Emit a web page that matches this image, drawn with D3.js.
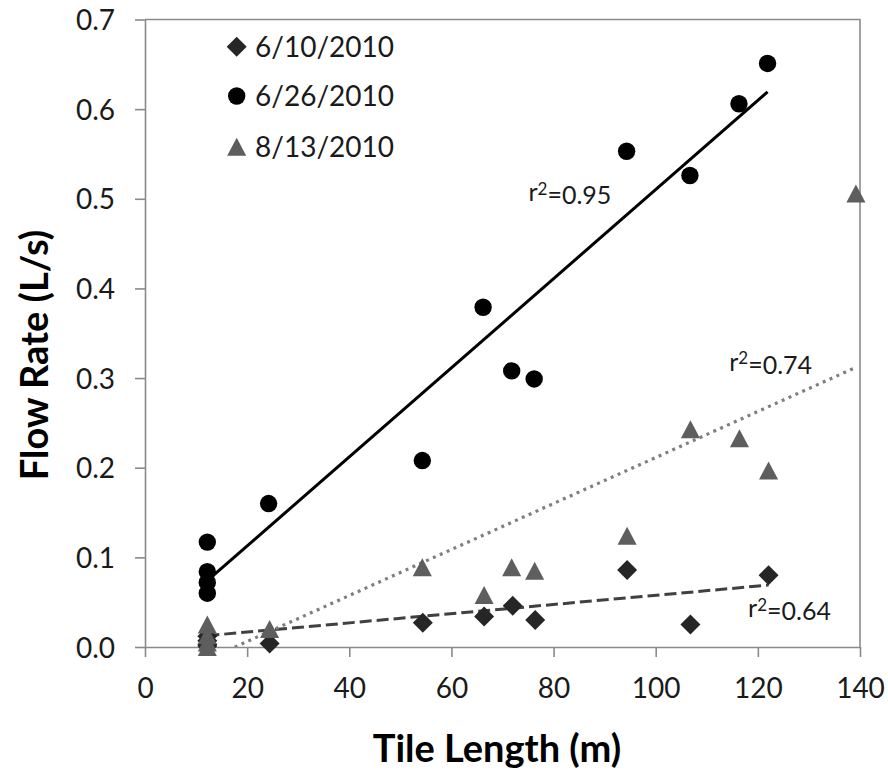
<!DOCTYPE html>
<html>
<head>
<meta charset="utf-8">
<script src="https://cdn.jsdelivr.net/npm/d3@7"></script>
<style>
  html, body { margin: 0; padding: 0; background: #fff; }
  svg { display: block; }
  text { font-family: Lato, "Open Sans", sans-serif; }
</style>
</head>
<body>
<svg id="chart" width="888" height="771"></svg>
<script>
// ---------- data ----------
const seriesNames = ["6/10/2010", "6/26/2010", "8/13/2010"];

const x0610 = [12.2, 12.2, 12.2, 12.2, 24.4, 54.4, 66.4, 72.0, 76.4, 94.4, 106.8, 122.1];
const y0610 = [0.012, 0.007, 0.003, 0.001, 0.004, 0.027, 0.034, 0.046, 0.030, 0.086, 0.025, 0.080];

const x0626 = [12.2, 12.2, 12.2, 12.2, 24.2, 54.3, 66.2, 71.8, 76.2, 94.3, 106.7, 116.3, 121.9];
const y0626 = [0.117, 0.084, 0.072, 0.060, 0.160, 0.208, 0.379, 0.308, 0.299, 0.553, 0.526, 0.606, 0.651];

const x0813 = [12.2, 12.2, 12.2, 12.2, 24.4, 54.3, 66.4, 71.8, 76.3, 94.4, 106.8, 116.4, 122.1, 139.2];
const y0813 = [0.025, 0.013, 0.005, 0.000, 0.020, 0.089, 0.058, 0.089, 0.085, 0.124, 0.243, 0.233, 0.197, 0.506];

// linear trend lines: y = slope * x + intercept, from xStart to xEnd
const trendSlope     = [0.000513, 0.00497, 0.002566];
const trendIntercept = [0.0064,   0.0133, -0.0452];
const trendXStart    = [12.2, 12.2, 12.2];
const trendXEnd      = [122.1, 121.9, 139.2];
const trendR2        = ["0.64", "0.95", "0.74"];
// label centre positions in data units (x, y)
const labelX = [126.2, 83.2, 122.5];
const labelY = [0.0435, 0.5076, 0.318];

const xTicks = [0, 20, 40, 60, 80, 100, 120, 140];
const yTicks = [0, 0.1, 0.2, 0.3, 0.4, 0.5, 0.6, 0.7];

const xTitle = "Tile Length (m)";
const yTitle = "Flow Rate (L/s)";

// ---------- styles ----------
const markerFill = ["#262626", "#000000", "#5e5e5e"];
const markerShape = ["diamond", "circle", "triangle"];
const trendStroke = ["#404040", "#000000", "#7f7f7f"];
const trendDash = ["12,5", null, "3,4.5"];
const trendWidth = [3, 3, 3.2];

const svg = d3.select("#chart");
const L = 145, R = 860, T = 19.5, B = 647;

const x = d3.scaleLinear().domain([0, 140]).range([L, R]);
const y = d3.scaleLinear().domain([0, 0.7]).range([B, T]);

const axisColor = "#8a8a8a";

// plot frame (top & right)
svg.append("path")
  .attr("d", `M${L},${T}H${R}V${B}`)
  .attr("fill", "none").attr("stroke", axisColor).attr("stroke-width", 1.6);

// axes
const gx = svg.append("g").attr("transform", `translate(0,${B})`)
  .call(d3.axisBottom(x).tickValues(xTicks).tickSize(10).tickSizeOuter(0).tickPadding(14).tickFormat(d3.format("d")));
const gy = svg.append("g").attr("transform", `translate(${L},0)`)
  .call(d3.axisLeft(y).tickValues(yTicks).tickSize(10).tickSizeOuter(0).tickPadding(20).tickFormat(d3.format(".1f")));
[gx, gy].forEach(g => {
  g.select(".domain").attr("stroke", axisColor).attr("stroke-width", 1.6);
  g.selectAll(".tick line").attr("stroke", axisColor).attr("stroke-width", 1.6);
  g.selectAll(".tick text").attr("fill", "#1a1a1a").style("font-size", "28px").style("font-family", "Lato, sans-serif");
});
gx.selectAll(".tick text").attr("dy", "0.95em");
gy.selectAll(".tick text").attr("dy", "0.36em");

// axis titles
svg.append("text")
  .attr("x", 497).attr("y", 762)
  .attr("text-anchor", "middle")
  .style("font-size", "38px").style("font-weight", "bold").attr("fill", "#000")
  .text(xTitle);
svg.append("text")
  .attr("transform", "translate(48,355) rotate(-90)")
  .attr("text-anchor", "middle")
  .style("font-size", "38px").style("font-weight", "bold").attr("fill", "#000")
  .text(yTitle);

// clip to plot area
svg.append("defs").append("clipPath").attr("id", "plotClip")
  .append("rect").attr("x", L).attr("y", T).attr("width", R - L).attr("height", B - T);

// trend lines
const trendG = svg.append("g").attr("clip-path", "url(#plotClip)");
seriesNames.forEach((n, i) => {
  const pts = [trendXStart[i], trendXEnd[i]].map(xx => [xx, trendSlope[i] * xx + trendIntercept[i]]);
  trendG.append("path")
    .attr("d", d3.line().x(d => x(d[0])).y(d => y(d[1]))(pts))
    .attr("fill", "none")
    .attr("stroke", trendStroke[i])
    .attr("stroke-width", trendWidth[i])
    .attr("stroke-dasharray", trendDash[i]);
});

// marker symbol types
const diamondType = { draw(ctx, s) { ctx.moveTo(0, -s); ctx.lineTo(s, 0); ctx.lineTo(0, s); ctx.lineTo(-s, 0); ctx.closePath(); } };
const circleType = { draw(ctx, s) { ctx.moveTo(s, 0); ctx.arc(0, 0, s, 0, 2 * Math.PI); } };
const triangleType = { draw(ctx, s) { ctx.moveTo(0, -s); ctx.lineTo(s * 1.06, s); ctx.lineTo(-s * 1.06, s); ctx.closePath(); } };
const shapeTypes = { diamond: diamondType, circle: circleType, triangle: triangleType };
const shapeSize = { diamond: 10, circle: 8.7, triangle: 9 };
function sym(i) {
  return d3.symbol().type(shapeTypes[markerShape[i]]).size(shapeSize[markerShape[i]])();
}

// points
const seriesX = [x0610, x0626, x0813];
const seriesY = [y0610, y0626, y0813];
seriesNames.forEach((n, i) => {
  const data = seriesX[i].map((xx, k) => [xx, seriesY[i][k]]);
  svg.append("g").selectAll("path").data(data).join("path")
    .attr("transform", d => `translate(${x(d[0])},${y(d[1])})`)
    .attr("d", sym(i))
    .attr("fill", markerFill[i]);
});

// trend labels (r² with a real superscript)
seriesNames.forEach((n, i) => {
  const t = svg.append("text")
    .attr("x", x(labelX[i])).attr("y", y(labelY[i]))
    .attr("text-anchor", "middle").attr("dy", "0.36em")
    .style("font-size", "25px").attr("fill", "#1a1a1a");
  t.append("tspan").text("r");
  t.append("tspan").attr("dy", "-0.38em").style("font-size", "17px").text("2");
  t.append("tspan").attr("dy", "0.38em").text("=" + trendR2[i]);
});

// legend
const legendItemY = [46.7, 96, 146.7];
const legend = svg.append("g");
seriesNames.forEach((n, i) => {
  legend.append("path")
    .attr("transform", `translate(236.7,${legendItemY[i]})`)
    .attr("d", sym(i))
    .attr("fill", markerFill[i]);
  legend.append("text")
    .attr("x", 255).attr("y", legendItemY[i]).attr("dy", "0.36em")
    .style("font-size", "28px").attr("fill", "#1a1a1a")
    .text(n);
});
</script>
</body>
</html>
